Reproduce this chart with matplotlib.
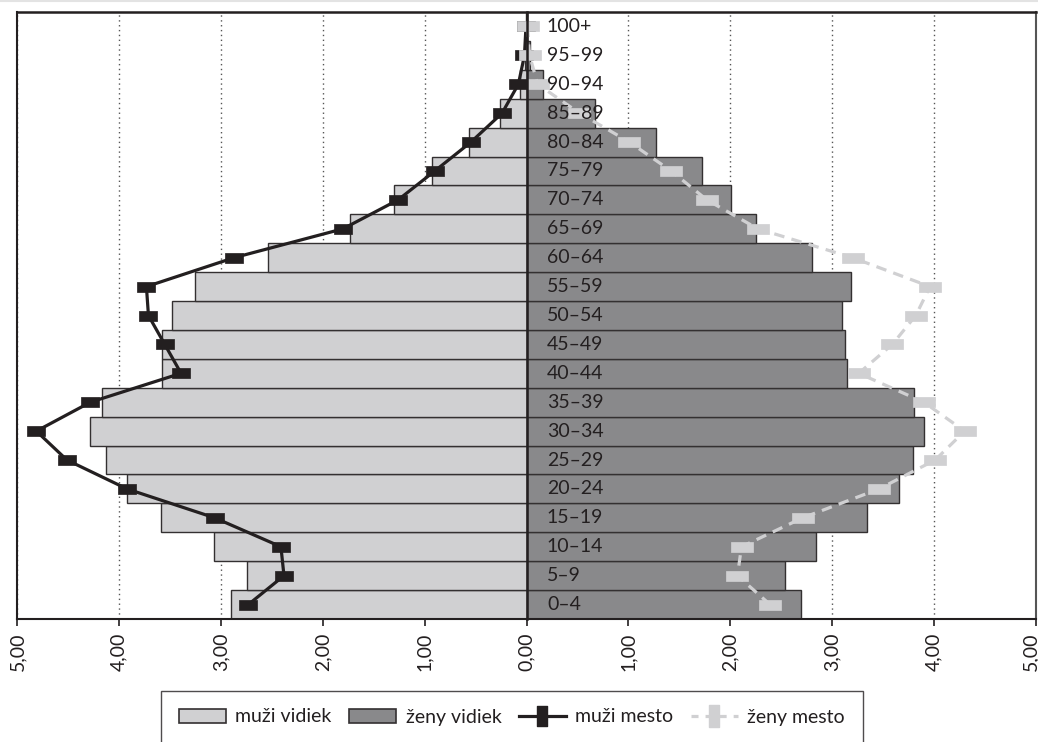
import numpy as np
import matplotlib
matplotlib.use("Agg")
import matplotlib.pyplot as plt
from matplotlib.path import Path
from matplotlib.patches import Patch
from matplotlib.lines import Line2D
import matplotlib.transforms as mtransforms

plt.rcParams['font.family'] = ['Lato', 'DejaVu Sans']

ages = ['0–4', '5–9', '10–14', '15–19', '20–24', '25–29', '30–34', '35–39',
        '40–44', '45–49', '50–54', '55–59', '60–64', '65–69', '70–74', '75–79',
        '80–84', '85–89', '90–94', '95–99', '100+']
muzi_vidiek = [2.90, 2.74, 3.07, 3.59, 3.92, 4.13, 4.28, 4.17, 3.58, 3.58, 3.48,
               3.25, 2.54, 1.73, 1.30, 0.93, 0.565, 0.256, 0.066, 0.012, 0.002]
zeny_vidiek = [2.69, 2.54, 2.84, 3.34, 3.66, 3.79, 3.90, 3.80, 3.15, 3.13, 3.10,
               3.18, 2.80, 2.25, 2.01, 1.72, 1.27, 0.67, 0.16, 0.03, 0.004]
muzi_mesto = [2.73, 2.38, 2.41, 3.06, 3.92, 4.51, 4.81, 4.28, 3.39, 3.55, 3.71,
              3.73, 2.87, 1.80, 1.26, 0.90, 0.545, 0.24, 0.08, 0.02, 0.005]
zeny_mesto = [2.39, 2.07, 2.11, 2.71, 3.46, 4.01, 4.30, 3.90, 3.26, 3.59, 3.82,
              3.96, 3.20, 2.27, 1.77, 1.42, 1.01, 0.52, 0.11, 0.03, 0.01]
xticks = [-5, -4, -3, -2, -1, 0, 1, 2, 3, 4, 5]
legend_labels = ['muži vidiek', 'ženy vidiek', 'muži mesto', 'ženy mesto']

C_LIGHT = '#D0D0D2'
C_DARK = '#89898B'
C_BLACK = '#231F20'
C_EDGE = '#333031'

rect_h_black = Path([(-1, -0.5), (1, -0.5), (1, 0.5), (-1, 0.5), (-1, -0.5)], closed=True)
rect_h_gray = Path([(-1, -0.45), (1, -0.45), (1, 0.45), (-1, 0.45), (-1, -0.45)], closed=True)
rect_v_black = Path([(-0.5, -1), (0.5, -1), (0.5, 1), (-0.5, 1), (-0.5, -1)], closed=True)
rect_v_gray = Path([(-0.45, -1), (0.45, -1), (0.45, 1), (-0.45, 1), (-0.45, -1)], closed=True)

fig = plt.figure(figsize=(10.38, 7.42), dpi=100)
ax = fig.add_axes([17/1038, 1-619/742, (1036-17)/1038, (619-12)/742])

y = np.arange(len(ages))
mv = -np.array(muzi_vidiek)
mm = -np.array(muzi_mesto)

ax.barh(y, mv, height=1.0, color=C_LIGHT, edgecolor=C_EDGE, linewidth=1.0, zorder=1)
ax.barh(y, zeny_vidiek, height=1.0, color=C_DARK, edgecolor=C_EDGE, linewidth=1.0, zorder=1)

ax.plot(mm, y, color=C_BLACK, lw=2.3, marker=rect_h_black, markersize=13,
        markerfacecolor=C_BLACK, markeredgecolor=C_BLACK, markeredgewidth=0.5, zorder=4)
ax.plot(zeny_mesto, y, color=C_LIGHT, lw=2.3, linestyle=(0, (3.3, 2.3)),
        marker=rect_h_gray, markersize=16, markerfacecolor=C_LIGHT,
        markeredgecolor=C_LIGHT, markeredgewidth=0.5, zorder=5)

for yi, lab in zip(y, ages):
    ax.text(0.2, yi, lab, ha='left', va='center', fontsize=14, color=C_BLACK, zorder=10)

ax.set_xlim(-5, 5)
ax.set_ylim(-0.5, len(ages) - 0.5)
ax.set_xticks(xticks)
ax.set_xticklabels([f"{abs(v):.2f}".replace('.', ',') for v in xticks],
                   rotation=90, fontsize=14, color=C_BLACK)
ax.tick_params(axis='x', direction='out', length=5, width=1.2, color=C_BLACK, pad=5)
# nudge edge labels so they stay inside the figure
tl = ax.get_xticklabels()
tl[-1].set_transform(tl[-1].get_transform() +
                     mtransforms.ScaledTranslation(-5/100, 0, fig.dpi_scale_trans))
tl[0].set_transform(tl[0].get_transform() +
                    mtransforms.ScaledTranslation(1/100, 0, fig.dpi_scale_trans))

ax.set_yticks(y)
ax.tick_params(axis='y', direction='out', length=6, width=1.0, color=C_BLACK, labelleft=False)
ax.spines['left'].set_position(('data', 0))
ax.spines['left'].set_color(C_BLACK)
ax.spines['left'].set_linewidth(1.8)
ax.spines['left'].set_zorder(6)
for s in ['top', 'bottom', 'right']:
    ax.spines[s].set_color(C_BLACK)
    ax.spines[s].set_linewidth(1.5)
ax.spines['top'].set_linewidth(1.8)
ax.spines['right'].set_color('#555555')
ax.add_line(Line2D([0, 0], [0, 1], transform=ax.transAxes, color=C_BLACK, lw=1.5,
                   clip_on=False, zorder=6))

ax.grid(axis='x', linestyle=(0, (1, 2.5)), color='#555555', lw=1.0)
ax.grid(axis='y', visible=False)
ax.set_axisbelow(True)

fig.add_artist(Line2D([0, 1], [0.999, 0.999], transform=fig.transFigure, color='#E3E3E3', lw=1.5))

handles = [
    Patch(facecolor=C_LIGHT, edgecolor=C_EDGE, linewidth=1.2),
    Patch(facecolor=C_DARK, edgecolor=C_EDGE, linewidth=1.2),
    Line2D([], [], color=C_BLACK, lw=2.3, marker=rect_v_black, markersize=15,
           markerfacecolor=C_BLACK, markeredgecolor=C_BLACK),
    Line2D([], [], color=C_LIGHT, lw=2.3, linestyle=(0, (2.2, 2.2)), marker=rect_v_gray,
           markersize=16, markerfacecolor=C_LIGHT, markeredgecolor=C_LIGHT),
]
leg = fig.legend(handles, legend_labels, loc='upper center',
                 bbox_to_anchor=(512/1038, 1 - 691/742), ncol=4, frameon=True,
                 fancybox=False, edgecolor=C_BLACK, fontsize=14, handlelength=2.4,
                 handleheight=0.7, handletextpad=0.5, columnspacing=0.9, borderpad=0.9,
                 borderaxespad=0)
leg.get_frame().set_linewidth(1.0)
for t in leg.get_texts():
    t.set_color(C_BLACK)

fig.savefig('out.png', dpi=100)
